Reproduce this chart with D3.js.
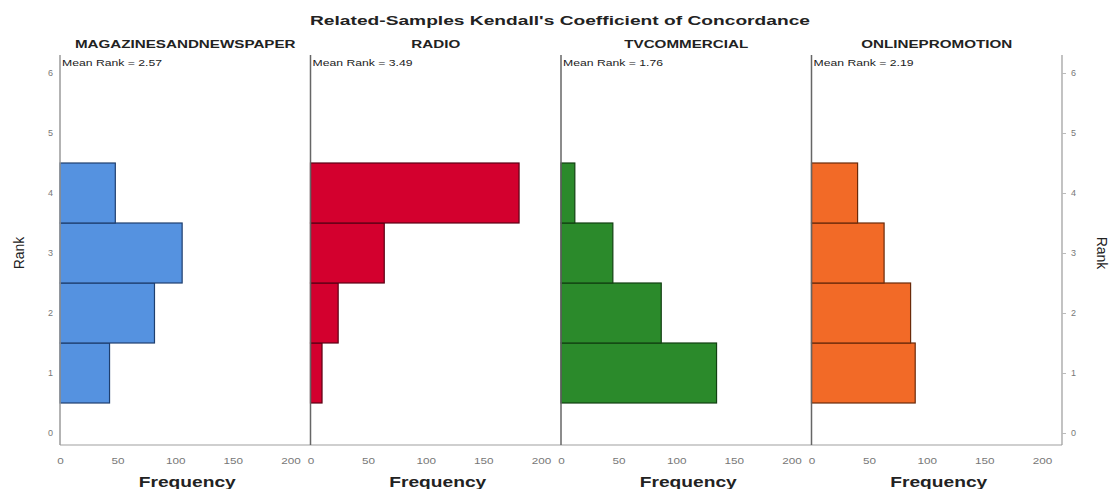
<!DOCTYPE html>
<html>
<head>
<meta charset="utf-8">
<script src="https://cdn.jsdelivr.net/npm/d3@7"></script>
<style>
  html, body { margin: 0; padding: 0; background: #fff; }
  svg { display: block; font-family: "Liberation Sans", Arial, sans-serif; }
</style>
</head>
<body>
<svg id="chart" width="1115" height="489"></svg>
<script>
// Kendall's W: frequency of each rank per media channel
const variables = ["MAGAZINESANDNEWSPAPER", "RADIO", "TVCOMMERCIAL", "ONLINEPROMOTION"];
const meanRanks = ["2.57", "3.49", "1.76", "2.19"];
const ranks = [1, 2, 3, 4];
const magazinesFreq = [43, 82, 106, 48];
const radioFreq = [10, 24, 64, 181];
const tvFreq = [135, 87, 45, 12];
const onlineFreq = [90, 86, 63, 40];
const seriesFreq = [magazinesFreq, radioFreq, tvFreq, onlineFreq];
const fillColors = ["#5592e0", "#d3002e", "#2b8a2b", "#f26a27"];
const strokeColors = ["#1f3f6e", "#5a0014", "#124012", "#6a2a0a"];
const freqTicks = [0, 50, 100, 150, 200];
const rankTicks = [0, 1, 2, 3, 4, 5, 6];

const svg = d3.select("#chart");

// Text in this figure uses a wide, horizontally stretched face
const STRETCH = 1.3;
function stretch(sel, factor = STRETCH) {
  sel.each(function () {
    const len = this.getComputedTextLength();
    d3.select(this).attr("textLength", len * factor).attr("lengthAdjust", "spacingAndGlyphs");
  });
}

const plotLeft = 60, plotRight = 1062, plotTop = 55, plotBottom = 445;
const panelBand = d3.scaleBand().domain(variables).range([plotLeft, plotRight]).padding(0);
const y = d3.scaleLinear().domain([-0.2, 6.3]).range([plotBottom, plotTop]);
const freqMax = 217.4;

// Title
svg.append("text")
  .attr("x", 560).attr("y", 25)
  .attr("text-anchor", "middle")
  .attr("font-weight", "bold").attr("font-size", 13.5)
  .attr("fill", "#222")
  .attr("textLength", 500).attr("lengthAdjust", "spacingAndGlyphs")
  .text("Related-Samples Kendall's Coefficient of Concordance");

// Bottom axis line across all panels
svg.append("line")
  .attr("x1", plotLeft).attr("x2", plotRight)
  .attr("y1", plotBottom).attr("y2", plotBottom)
  .attr("stroke", "#a0a0a0").attr("stroke-width", 1.2);

variables.forEach((name, i) => {
  const x0 = panelBand(name);
  const x = d3.scaleLinear().domain([0, freqMax]).range([x0, x0 + panelBand.bandwidth()]);
  const g = svg.append("g");

  // Panel title
  g.append("text")
    .attr("x", x0 + panelBand.bandwidth() / 2).attr("y", 48)
    .attr("text-anchor", "middle")
    .attr("font-weight", "bold").attr("font-size", 11)
    .attr("fill", "#222")
    .text(name)
    .call(stretch, 1.38);

  // Mean rank annotation
  g.append("text")
    .attr("x", x0 + 2).attr("y", 66)
    .attr("font-size", 8.5).attr("fill", "#222")
    .text("Mean Rank = " + meanRanks[i])
    .call(sel => sel.attr("textLength", 100).attr("lengthAdjust", "spacingAndGlyphs"));

  // Histogram bars (horizontal, one per rank)
  const bars = ranks.map((r, k) => ({ rank: r, freq: seriesFreq[i][k] }));
  g.selectAll("rect.bar")
    .data(bars)
    .join("rect")
    .attr("class", "bar")
    .attr("x", x(0))
    .attr("y", d => y(d.rank + 0.5))
    .attr("width", d => x(d.freq) - x(0))
    .attr("height", d => y(d.rank - 0.5) - y(d.rank + 0.5))
    .attr("fill", fillColors[i])
    .attr("stroke", strokeColors[i])
    .attr("stroke-width", 1.2);

  // Panel axis line
  g.append("line")
    .attr("x1", x0).attr("x2", x0)
    .attr("y1", plotTop).attr("y2", plotBottom)
    .attr("stroke", i === 0 ? "#9a9a9a" : "#666")
    .attr("stroke-width", 1.5);

  // Frequency tick labels
  const xAxis = d3.axisBottom(x).tickValues(freqTicks).tickSize(0).tickPadding(0);
  const ax = g.append("g").attr("transform", `translate(0,${plotBottom + 13})`).call(xAxis);
  ax.select(".domain").remove();
  ax.selectAll("text").attr("font-size", 9).attr("fill", "#777")
    .attr("font-family", "Liberation Sans, Arial, sans-serif")
    .call(stretch);

  // Frequency axis title
  g.append("text")
    .attr("x", x(100) + 12).attr("y", 487)
    .attr("text-anchor", "middle")
    .attr("font-weight", "bold").attr("font-size", 15)
    .attr("fill", "#222")
    .attr("textLength", 97).attr("lengthAdjust", "spacingAndGlyphs")
    .text("Frequency");
});

// Right axis line
svg.append("line")
  .attr("x1", plotRight).attr("x2", plotRight)
  .attr("y1", plotTop).attr("y2", plotBottom)
  .attr("stroke", "#9a9a9a").attr("stroke-width", 1.2);

// Left rank tick labels
const leftAxis = d3.axisLeft(y).tickValues(rankTicks).tickFormat(d3.format("d")).tickSize(0).tickPadding(0);
const la = svg.append("g").attr("transform", `translate(${plotLeft - 7},0)`).call(leftAxis);
la.select(".domain").remove();
la.selectAll("text").attr("font-size", 9).attr("fill", "#777")
  .attr("font-family", "Liberation Sans, Arial, sans-serif");

// Right rank tick labels with short ticks
const rightAxis = d3.axisRight(y).tickValues(rankTicks).tickFormat(d3.format("d")).tickSize(4).tickPadding(5);
const ra = svg.append("g").attr("transform", `translate(${plotRight},0)`).call(rightAxis);
ra.select(".domain").remove();
ra.selectAll("line").attr("stroke", "#bbb");
ra.selectAll("text").attr("font-size", 9).attr("fill", "#777")
  .attr("font-family", "Liberation Sans, Arial, sans-serif");

// Rank axis titles
svg.append("text")
  .attr("transform", `translate(24,${y(3)}) rotate(-90)`)
  .attr("text-anchor", "middle")
  .attr("font-size", 14).attr("fill", "#222")
  .text("Rank");
svg.append("text")
  .attr("transform", `translate(1097,${y(3)}) rotate(90)`)
  .attr("text-anchor", "middle")
  .attr("font-size", 14).attr("fill", "#222")
  .text("Rank");
</script>
</body>
</html>
